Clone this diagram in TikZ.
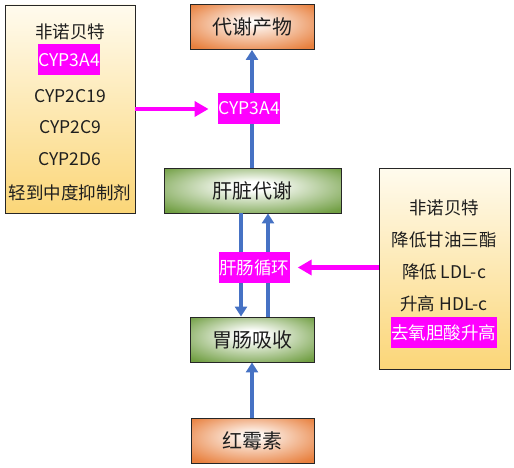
\documentclass[tikz,border=0pt]{standalone}
\usepackage{fontspec}
\setmainfont{Noto Sans CJK SC}
\usetikzlibrary{arrows.meta,shadings}
\definecolor{orangeC}{RGB}{232,128,62}
\definecolor{greenC}{RGB}{112,158,66}
\definecolor{creamTop}{RGB}{255,251,238}
\definecolor{creamBot}{RGB}{251,214,120}
\definecolor{blueC}{RGB}{70,114,196}
\definecolor{magC}{RGB}{255,0,255}
\definecolor{txtC}{RGB}{30,30,30}
\pgfdeclareradialshading{orangeglow}{\pgfpoint{0bp}{6bp}}{color(0bp)=(white); color(4bp)=(orangeC!8); color(33bp)=(orangeC); color(50bp)=(orangeC)}
\pgfdeclareradialshading{greenglow}{\pgfpoint{0bp}{6bp}}{color(0bp)=(white); color(5bp)=(white); color(34bp)=(greenC); color(50bp)=(greenC)}
\tikzset{
  mainbox/.style={draw=black!85, line width=0.9pt, minimum height=45pt, inner sep=0pt,
    text=txtC, font=\fontsize{20}{24}\selectfont},
  orangebox/.style={mainbox, shading=orangeglow},
  greenbox/.style={mainbox, shading=greenglow},
  sidebox/.style={draw=black!85, line width=0.9pt, top color=creamTop, bottom color=creamBot, inner sep=0pt},
  sidetext/.style={inner sep=0pt, text=txtC, font=\fontsize{17.5}{21}\selectfont},
  hl/.style={fill=magC, text=white, inner xsep=0.5pt, inner ysep=0pt, minimum height=31pt,
    font=\fontsize{17.5}{21}\selectfont},
  bluearrow/.style={draw=blueC, line width=4.5pt, -{Triangle[width=12pt,length=10pt]}},
  magarrow/.style={draw=magC, line width=4.5pt, -{Triangle[width=15pt,length=14pt]}}
}
\begin{document}
\begin{tikzpicture}[x=1pt,y=-1pt]
\useasboundingbox[fill=white] (0,0) rectangle (514,468);
% main boxes
\node[orangebox, minimum width=124pt] (product) at (252,27) {代谢产物};
\node[greenbox, minimum width=177pt] (liver) at (252.5,190.5) {肝脏代谢};
\node[greenbox, minimum width=124pt] (gut) at (252,339.5) {胃肠吸收};
\node[orangebox, minimum width=123pt] (ery) at (252.5,440.5) {红霉素};
% side boxes
\node[sidebox, minimum width=130pt, minimum height=208pt] (leftbox) at (70,109) {};
\node[sidebox, minimum width=131pt, minimum height=201pt] (rightbox) at (444.5,268.5) {};
% left box texts
\node[sidetext] (l1) at (70,32) {非诺贝特};
\node[hl] (l2) at (69,60) {CYP3A4};
\node[sidetext] (l3) at (70,96) {CYP2C19};
\node[sidetext] (l4) at (70,127) {CYP2C9};
\node[sidetext] (l5) at (70,159) {CYP2D6};
\node[sidetext] (l6) at (70,193) {轻到中度抑制剂};
% right box texts
\node[sidetext] (r1) at (444,208) {非诺贝特};
\node[sidetext] (r2) at (444,240) {降低甘油三酯};
\node[sidetext] (r3) at (444,272) {降低 LDL-c};
\node[sidetext] (r4) at (444,304) {升高 HDL-c};
\node[hl] (r5) at (443.5,332.5) {去氧胆酸升高};
% blue arrows
\draw[bluearrow] (liver.north -| product.south) -- (product.south);
\draw[bluearrow] ([xshift=-11.5pt]liver.south) -- ([xshift=-11pt]gut.north);
\draw[bluearrow] ([xshift=16pt]gut.north) -- ([xshift=15.5pt]liver.south);
\draw[bluearrow] (ery.north -| gut.south) -- (gut.south);
% labels on arrows
\node[hl] (cyp) at (249,108.5) {CYP3A4};
\node[hl] (loop) at (254,267.5) {肝肠循环};
% magenta arrows
\draw[magarrow] (leftbox.east) -- ([xshift=-9pt]cyp.west |- leftbox.east);
\draw[magarrow] (rightbox.west |- loop.east) -- ([xshift=8pt]loop.east);
\end{tikzpicture}
\end{document}
